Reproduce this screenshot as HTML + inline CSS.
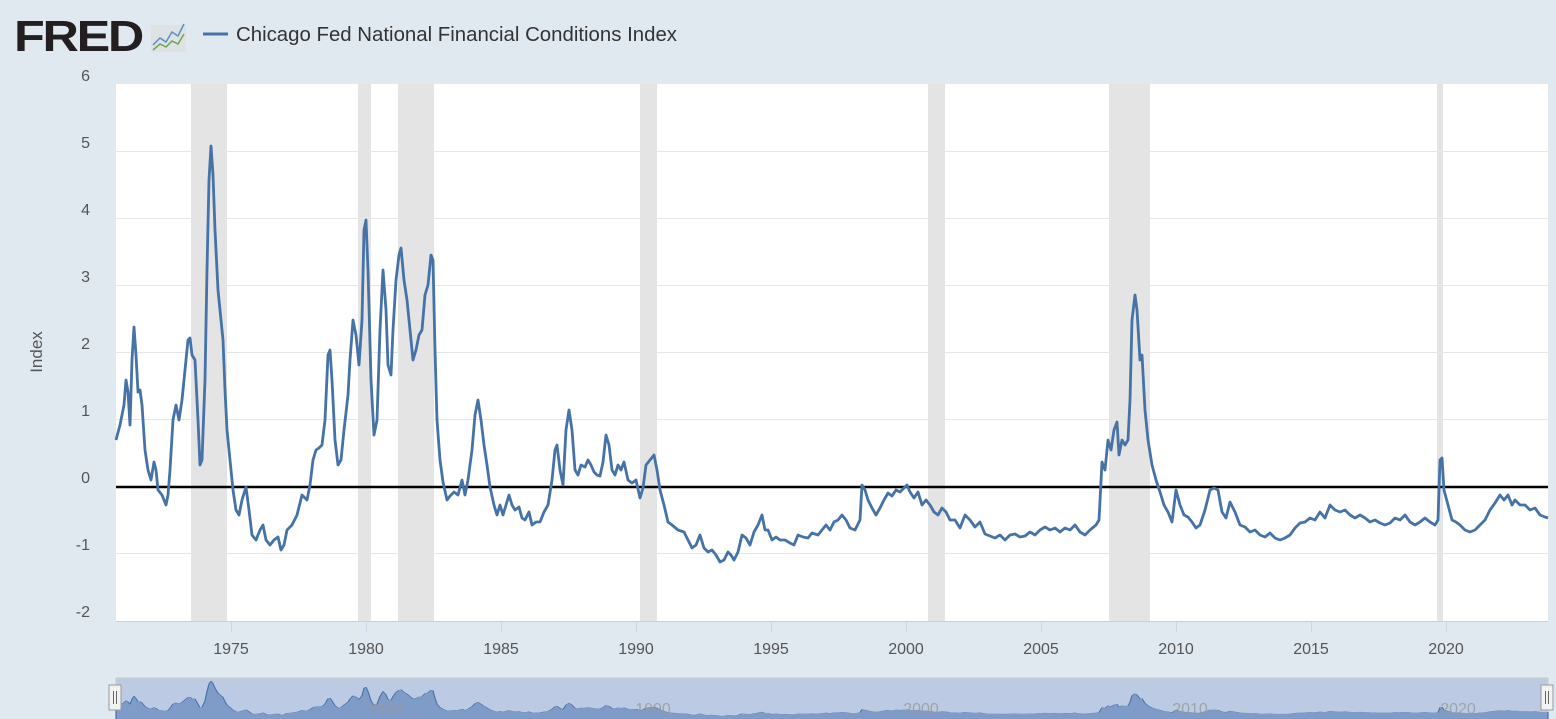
<!DOCTYPE html>
<html><head><meta charset="utf-8"><style>
body{margin:0;width:1556px;height:719px;background:#e1e9f0;overflow:hidden;font-family:"Liberation Sans",sans-serif}
</style></head><body>
<svg width="1556" height="719" xmlns="http://www.w3.org/2000/svg" style="position:absolute;left:0;top:0">
<defs>
<polyline id="s" fill="none" points="116,440 120,425 124,405 126,380 128,392 130,425 132,360 134,327 136,355 138,392 140,390 142,405 145,450 148,470 151,480 154,462 156,470 158,490 162,495 166,505 168,495 170,470 173,420 176,405 179,420 182,400 185,370 188,340 190,338 192,355 195,360 198,420 200,465 202,460 205,380 207,270 209,180 211,146 213,175 215,230 218,290 221,320 223,340 225,390 227,430 230,460 233,490 236,510 239,515 242,500 246,487 249,510 252,535 256,540 260,530 263,525 266,540 270,545 274,540 278,537 281,550 284,545 287,530 292,525 297,515 302,495 307,500 310,485 313,460 316,450 319,448 322,445 325,420 328,355 330,350 332,380 335,440 338,465 341,460 344,430 348,395 350,360 353,320 356,335 359,365 362,320 364,230 366,220 368,270 371,380 374,435 377,420 380,330 383,270 386,310 388,365 391,375 393,330 396,280 399,255 401,248 404,280 407,300 410,330 413,360 416,350 419,335 422,330 425,295 428,285 431,255 433,260 435,350 437,420 440,460 443,482 447,500 450,496 454,492 458,495 462,480 465,495 468,480 472,450 475,415 478,400 481,420 484,445 487,465 490,487 494,505 497,515 500,505 503,515 506,505 509,495 512,505 515,510 519,507 522,518 525,520 529,512 532,525 536,522 540,522 544,512 548,505 552,480 555,450 557,445 560,470 563,485 566,430 569,410 572,430 575,470 578,475 581,465 585,467 588,460 591,465 594,472 597,475 600,476 603,462 606,435 609,445 612,470 615,475 618,465 621,470 624,462 628,480 632,483 636,480 640,498 643,488 646,465 650,460 654,455 657,470 660,490 664,505 668,522 672,525 678,530 684,532 688,540 692,548 696,545 700,535 704,548 708,552 712,550 716,555 720,562 724,560 728,552 731,555 734,560 738,552 742,535 746,538 750,545 754,532 758,525 762,515 765,530 768,530 772,540 776,537 780,540 785,540 790,543 794,545 798,535 803,537 808,538 812,533 818,535 822,530 826,525 830,530 834,522 838,520 842,515 846,520 850,528 855,530 860,520 862,485 865,490 868,500 872,508 876,515 880,508 884,500 888,493 892,496 896,490 900,492 904,488 907,485 910,492 914,498 918,492 922,505 926,500 930,505 934,512 938,515 942,508 946,512 950,520 955,520 960,528 965,515 970,520 975,527 980,522 985,534 990,536 995,538 1000,535 1005,540 1010,535 1015,534 1020,537 1025,536 1030,532 1035,535 1040,530 1045,527 1050,530 1055,528 1060,532 1065,528 1070,530 1075,525 1080,532 1085,535 1090,530 1096,525 1099,520 1102,462 1105,470 1108,440 1111,450 1114,430 1117,422 1119,455 1122,440 1125,445 1128,440 1130,400 1132,320 1135,295 1137,310 1140,360 1142,355 1145,410 1148,440 1152,465 1156,480 1160,492 1164,505 1168,512 1172,522 1176,490 1180,505 1184,515 1188,517 1192,522 1196,528 1200,525 1205,510 1210,490 1214,488 1218,490 1222,512 1226,518 1230,502 1235,512 1240,525 1245,527 1250,532 1255,530 1260,535 1265,537 1270,533 1275,538 1280,540 1285,538 1290,535 1295,528 1300,523 1305,522 1310,518 1315,520 1320,512 1325,518 1330,505 1335,510 1340,512 1345,510 1350,515 1355,518 1360,515 1365,518 1370,522 1375,520 1380,523 1385,525 1390,523 1395,518 1400,520 1405,515 1410,522 1415,525 1420,522 1425,518 1430,522 1435,525 1438,520 1440,460 1442,458 1444,490 1448,505 1452,520 1456,522 1460,525 1465,530 1470,532 1475,530 1480,525 1485,520 1490,510 1495,503 1500,495 1504,500 1508,495 1512,505 1515,500 1520,505 1525,505 1530,510 1535,508 1540,515 1545,517 1548,518"/>
<polygon id="a" points="116,599 116,440 120,425 124,405 126,380 128,392 130,425 132,360 134,327 136,355 138,392 140,390 142,405 145,450 148,470 151,480 154,462 156,470 158,490 162,495 166,505 168,495 170,470 173,420 176,405 179,420 182,400 185,370 188,340 190,338 192,355 195,360 198,420 200,465 202,460 205,380 207,270 209,180 211,146 213,175 215,230 218,290 221,320 223,340 225,390 227,430 230,460 233,490 236,510 239,515 242,500 246,487 249,510 252,535 256,540 260,530 263,525 266,540 270,545 274,540 278,537 281,550 284,545 287,530 292,525 297,515 302,495 307,500 310,485 313,460 316,450 319,448 322,445 325,420 328,355 330,350 332,380 335,440 338,465 341,460 344,430 348,395 350,360 353,320 356,335 359,365 362,320 364,230 366,220 368,270 371,380 374,435 377,420 380,330 383,270 386,310 388,365 391,375 393,330 396,280 399,255 401,248 404,280 407,300 410,330 413,360 416,350 419,335 422,330 425,295 428,285 431,255 433,260 435,350 437,420 440,460 443,482 447,500 450,496 454,492 458,495 462,480 465,495 468,480 472,450 475,415 478,400 481,420 484,445 487,465 490,487 494,505 497,515 500,505 503,515 506,505 509,495 512,505 515,510 519,507 522,518 525,520 529,512 532,525 536,522 540,522 544,512 548,505 552,480 555,450 557,445 560,470 563,485 566,430 569,410 572,430 575,470 578,475 581,465 585,467 588,460 591,465 594,472 597,475 600,476 603,462 606,435 609,445 612,470 615,475 618,465 621,470 624,462 628,480 632,483 636,480 640,498 643,488 646,465 650,460 654,455 657,470 660,490 664,505 668,522 672,525 678,530 684,532 688,540 692,548 696,545 700,535 704,548 708,552 712,550 716,555 720,562 724,560 728,552 731,555 734,560 738,552 742,535 746,538 750,545 754,532 758,525 762,515 765,530 768,530 772,540 776,537 780,540 785,540 790,543 794,545 798,535 803,537 808,538 812,533 818,535 822,530 826,525 830,530 834,522 838,520 842,515 846,520 850,528 855,530 860,520 862,485 865,490 868,500 872,508 876,515 880,508 884,500 888,493 892,496 896,490 900,492 904,488 907,485 910,492 914,498 918,492 922,505 926,500 930,505 934,512 938,515 942,508 946,512 950,520 955,520 960,528 965,515 970,520 975,527 980,522 985,534 990,536 995,538 1000,535 1005,540 1010,535 1015,534 1020,537 1025,536 1030,532 1035,535 1040,530 1045,527 1050,530 1055,528 1060,532 1065,528 1070,530 1075,525 1080,532 1085,535 1090,530 1096,525 1099,520 1102,462 1105,470 1108,440 1111,450 1114,430 1117,422 1119,455 1122,440 1125,445 1128,440 1130,400 1132,320 1135,295 1137,310 1140,360 1142,355 1145,410 1148,440 1152,465 1156,480 1160,492 1164,505 1168,512 1172,522 1176,490 1180,505 1184,515 1188,517 1192,522 1196,528 1200,525 1205,510 1210,490 1214,488 1218,490 1222,512 1226,518 1230,502 1235,512 1240,525 1245,527 1250,532 1255,530 1260,535 1265,537 1270,533 1275,538 1280,540 1285,538 1290,535 1295,528 1300,523 1305,522 1310,518 1315,520 1320,512 1325,518 1330,505 1335,510 1340,512 1345,510 1350,515 1355,518 1360,515 1365,518 1370,522 1375,520 1380,523 1385,525 1390,523 1395,518 1400,520 1405,515 1410,522 1415,525 1420,522 1425,518 1430,522 1435,525 1438,520 1440,460 1442,458 1444,490 1448,505 1452,520 1456,522 1460,525 1465,530 1470,532 1475,530 1480,525 1485,520 1490,510 1495,503 1500,495 1504,500 1508,495 1512,505 1515,500 1520,505 1525,505 1530,510 1535,508 1540,515 1545,517 1548,518 1548,599"/>
</defs>
<!-- header -->
<text x="14" y="51" font-size="44" font-weight="bold" fill="#231f20" textLength="128" lengthAdjust="spacingAndGlyphs" letter-spacing="-2">FRED</text>
<rect x="151" y="25" width="35" height="27" fill="#dfe2e3"/>
<polyline points="153,45 160,38 166,42 172,32 178,36 184,24" fill="none" stroke="#5a8fc7" stroke-width="1.5"/>
<polyline points="153,50 160,44 166,47 172,41 178,44 184,34" fill="none" stroke="#6aa84f" stroke-width="1.5"/>
<line x1="203" y1="34" x2="228" y2="34" stroke="#4572a7" stroke-width="3"/>
<text x="236" y="41" font-size="20" fill="#333" textLength="441" lengthAdjust="spacingAndGlyphs">Chicago Fed National Financial Conditions Index</text>
<!-- plot -->
<rect x="116" y="84" width="1432" height="537" fill="#fff"/>
<g fill="#e4e4e4">
<rect x="191" y="84" width="36" height="537"/><rect x="358" y="84" width="13" height="537"/>
<rect x="398" y="84" width="36" height="537"/><rect x="640" y="84" width="17" height="537"/>
<rect x="928" y="84" width="17" height="537"/><rect x="1109" y="84" width="41" height="537"/>
<rect x="1437" y="84" width="6" height="537"/></g>
<g stroke="#e6e6e6" stroke-width="1">
<line x1="116" x2="1548" y1="151.5" y2="151.5"/><line x1="116" x2="1548" y1="218.5" y2="218.5"/>
<line x1="116" x2="1548" y1="285.5" y2="285.5"/><line x1="116" x2="1548" y1="352.5" y2="352.5"/>
<line x1="116" x2="1548" y1="419.5" y2="419.5"/><line x1="116" x2="1548" y1="553.5" y2="553.5"/></g>
<line x1="116" x2="1548" y1="621.5" y2="621.5" stroke="#c6d1e0"/>
<g stroke="#ccd6eb"><line x1="231.5" x2="231.5" y1="622" y2="632"/><line x1="366.5" x2="366.5" y1="622" y2="632"/><line x1="501.5" x2="501.5" y1="622" y2="632"/><line x1="636.5" x2="636.5" y1="622" y2="632"/><line x1="771.5" x2="771.5" y1="622" y2="632"/><line x1="906.5" x2="906.5" y1="622" y2="632"/><line x1="1041.5" x2="1041.5" y1="622" y2="632"/><line x1="1176.5" x2="1176.5" y1="622" y2="632"/><line x1="1311.5" x2="1311.5" y1="622" y2="632"/><line x1="1446.5" x2="1446.5" y1="622" y2="632"/></g>
<line x1="116" x2="1548" y1="487" y2="487" stroke="#000" stroke-width="2.5"/>
<use href="#s" stroke="#4572a7" stroke-width="2.8" stroke-linejoin="round"/>
<g font-size="16" fill="#555" text-anchor="end">
<text x="90" y="81">6</text><text x="90" y="148">5</text><text x="90" y="215">4</text><text x="90" y="282">3</text><text x="90" y="349">2</text><text x="90" y="416">1</text><text x="90" y="483">0</text><text x="90" y="550">-1</text><text x="90" y="617">-2</text></g>
<text transform="translate(42,352) rotate(-90)" font-size="17" fill="#555" text-anchor="middle">Index</text>
<g font-size="16" fill="#555" text-anchor="middle">
<text x="231" y="654">1975</text><text x="366" y="654">1980</text><text x="501" y="654">1985</text><text x="636" y="654">1990</text><text x="771" y="654">1995</text><text x="906" y="654">2000</text><text x="1041" y="654">2005</text><text x="1176" y="654">2010</text><text x="1311" y="654">2015</text><text x="1446" y="654">2020</text></g>
<!-- navigator -->
<rect x="116" y="678" width="1432" height="41" fill="#bccbe3" stroke="#c8c8c8"/>
<g transform="translate(0,668.7) scale(1,0.084)">
<use href="#a" fill="#7f9bc8" stroke="#4572a7" stroke-width="1.2" vector-effect="non-scaling-stroke"/>
</g>
<g font-size="16" fill="#999" text-anchor="middle" opacity="0.8">
<text x="385" y="714">1980</text><text x="653" y="714">1990</text><text x="921" y="714">2000</text><text x="1190" y="714">2010</text><text x="1458" y="714">2020</text></g>
<rect x="109" y="685" width="12" height="25" fill="#f2f2f2" stroke="#999"/>
<line x1="113.5" x2="113.5" y1="691" y2="704" stroke="#666"/><line x1="116.5" x2="116.5" y1="691" y2="704" stroke="#666"/>
<rect x="1541" y="685" width="12" height="25" fill="#f2f2f2" stroke="#999"/>
<line x1="1545.5" x2="1545.5" y1="691" y2="704" stroke="#666"/><line x1="1548.5" x2="1548.5" y1="691" y2="704" stroke="#666"/>
</svg>
</body></html>
